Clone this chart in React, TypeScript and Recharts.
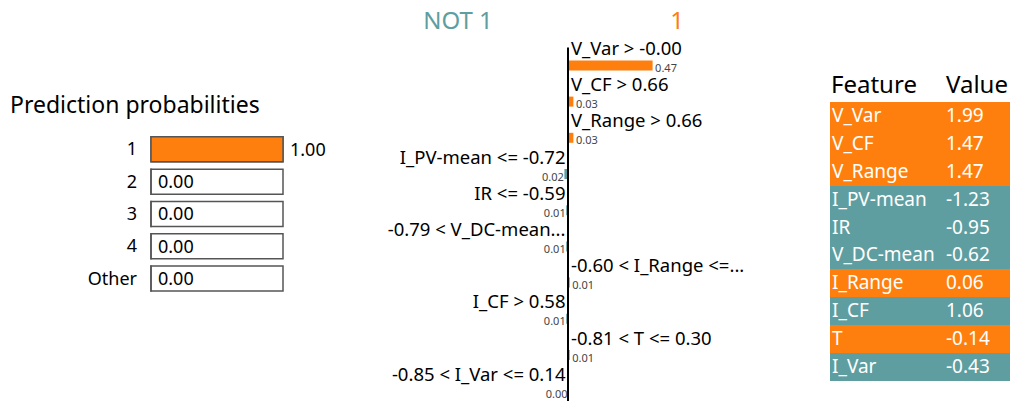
import { BarChart, Bar, XAxis, YAxis, Cell, LabelList, ReferenceLine } from 'recharts';

const ORANGE = '#ff7f0e';
const TEAL = '#5f9ea0';
const FONT = '"Noto Sans", "Open Sans", sans-serif';

// class probabilities
const classNames = ['1', '2', '3', '4', 'Other'];
const classProbs = [1.0, 0.0, 0.0, 0.0, 0.0];

// local explanation for class "1"
const ruleLabels = [
  'V_Var > -0.00',
  'V_CF > 0.66',
  'V_Range > 0.66',
  'I_PV-mean <= -0.72',
  'IR <= -0.59',
  '-0.79 < V_DC-mean...',
  '-0.60 < I_Range <=...',
  'I_CF > 0.58',
  '-0.81 < T <= 0.30',
  '-0.85 < I_Var <= 0.14',
];
const ruleWeights = [0.47, 0.03, 0.03, -0.02, -0.01, -0.01, 0.01, -0.01, 0.01, -0.0];

// feature values table
const featureNames = ['V_Var', 'V_CF', 'V_Range', 'I_PV-mean', 'IR', 'V_DC-mean', 'I_Range', 'I_CF', 'T', 'I_Var'];
const featureValues = [1.99, 1.47, 1.47, -1.23, -0.95, -0.62, 0.06, 1.06, -0.14, -0.43];

const isNeg = (w: number) => w < 0 || Object.is(w, -0);

const probData = classNames.map((name, i) => ({ name, prob: classProbs[i] }));
const ruleData = ruleLabels.map((rule, i) => ({ rule, weight: ruleWeights[i] }));

function box(props: any) {
  const vb = props.viewBox || props;
  return { x: Number(vb.x), y: Number(vb.y), width: Number(vb.width), height: Number(vb.height) };
}

function ProbLabel(props: any) {
  const { x, y, width, height } = box(props);
  const i = props.index;
  const right = Math.max(x, x + width);
  return (
    <text x={right + 7} y={y + height / 2} dy="0.355em" fontSize={18} fontFamily={FONT} fill="#000">
      {classProbs[i].toFixed(2)}
    </text>
  );
}

function RuleLabel(props: any) {
  const { x, y, width, height } = box(props);
  const i = props.index;
  const w = ruleWeights[i];
  const neg = isNeg(w);
  const left = Math.min(x, x + width);
  const right = Math.max(x, x + width);
  const zero = neg ? right : left;
  const end = neg ? left : right;
  const cy = y + height / 2;
  return (
    <g>
      <text
        x={neg ? zero - 2.5 : zero + 3}
        y={cy - 10.5}
        textAnchor={neg ? 'end' : 'start'}
        fontSize={18.5}
        fontFamily={FONT}
        fill="#000"
      >
        {ruleLabels[i]}
      </text>
      <text
        x={neg ? end - 0.5 : end + 2.5}
        y={cy + 6.5}
        textAnchor={neg ? 'end' : 'start'}
        fontSize={11}
        fontFamily={FONT}
        fill="#444"
      >
        {Math.abs(w).toFixed(2)}
      </text>
    </g>
  );
}

// keep zero-valued rows in the layout (so their box and labels are drawn)
const probMinSize = 0.01;
const ruleMinSize = (_v: number, i: number) => (isNeg(ruleWeights[i]) ? -0.01 : 0.01);

export default function App() {
  return (
    <div style={{ position: 'absolute', left: 0, top: 0, width: 1010, height: 401, background: '#fff', overflow: 'hidden', fontFamily: FONT }}>
      {/* Prediction probabilities */}
      <div style={{ position: 'absolute', left: 0, top: 0 }}>
        <BarChart
          layout="vertical"
          width={340}
          height={310}
          data={probData}
          margin={{ top: 132.85, right: 57, bottom: 15.65, left: 0 }}
          barSize={25}
        >
          <XAxis type="number" domain={[0, 1]} hide />
          <YAxis
            type="category"
            dataKey="name"
            width={151}
            tickSize={0}
            tickMargin={14}
            axisLine={false}
            tickLine={false}
            tick={{ fontSize: 18, fill: '#000', fontFamily: FONT }}
          />
          <Bar
            dataKey="prob"
            fill={ORANGE}
            stroke="#555"
            strokeWidth={1.5}
            minPointSize={probMinSize}
            background={{ fill: '#fff', stroke: '#555', strokeWidth: 1.5 }}
            isAnimationActive={false}
          >
            <LabelList dataKey="prob" content={ProbLabel} />
          </Bar>
        </BarChart>
      </div>

      {/* Explanation weights */}
      <div style={{ position: 'absolute', left: 380, top: 0 }}>
        <BarChart
          layout="vertical"
          width={380}
          height={420}
          data={ruleData}
          margin={{ top: 47.4, right: 12, bottom: 10.6, left: 8 }}
          barSize={10}
        >
          <XAxis type="number" domain={[-1, 1]} hide />
          <YAxis type="category" dataKey="rule" hide />
          <Bar dataKey="weight" minPointSize={ruleMinSize} isAnimationActive={false}>
            {ruleData.map((d, i) => (
              <Cell key={i} fill={isNeg(d.weight) ? TEAL : ORANGE} />
            ))}
            <LabelList dataKey="weight" content={RuleLabel} />
          </Bar>
          <ReferenceLine x={0} stroke="#000" strokeWidth={2} />
        </BarChart>
      </div>

      {/* Feature / value table */}
      <div style={{ position: 'absolute', left: 830, top: 102, width: 180 }}>
        {featureNames.map((f, i) => (
          <div
            key={f}
            style={{
              display: 'flex',
              height: 27.9,
              lineHeight: '27.9px',
              fontSize: 19,
              color: '#fff',
              background: isNeg(ruleWeights[i]) ? TEAL : ORANGE,
            }}
          >
            <span style={{ width: 114, paddingLeft: 2, whiteSpace: 'nowrap' }}>{f}</span>
            <span>{featureValues[i].toFixed(2)}</span>
          </div>
        ))}
      </div>

      {/* Titles */}
      <svg width={1010} height={401} style={{ position: 'absolute', left: 0, top: 0, pointerEvents: 'none' }}>
        <text x={10} y={113} fontSize={23} fontFamily={FONT} fill="#000">Prediction probabilities</text>
        <text x={458} y={29} fontSize={24} fontFamily={FONT} fill={TEAL} textAnchor="middle">NOT 1</text>
        <text x={677} y={29} fontSize={24} fontFamily={FONT} fill={ORANGE} textAnchor="middle">1</text>
        <text x={831} y={93} fontSize={24} fontFamily={FONT} fill="#000">Feature</text>
        <text x={946} y={93} fontSize={24} fontFamily={FONT} fill="#000">Value</text>
      </svg>
    </div>
  );
}
